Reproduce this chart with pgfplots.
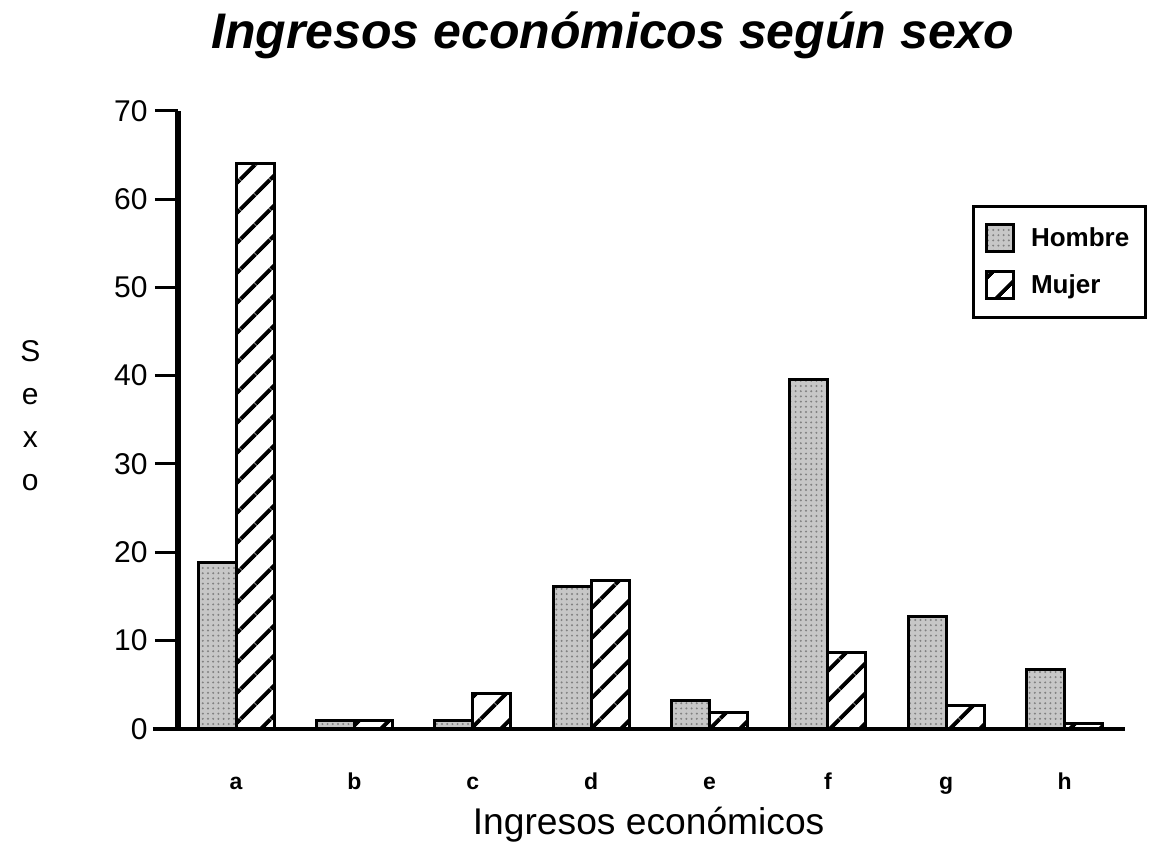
\documentclass[border=0pt]{standalone}
\usepackage{pgfplots}
\pgfplotsset{compat=1.18}
\usepackage{fontspec}
\setmainfont{Liberation Sans}
\usetikzlibrary{patterns.meta}
\begin{document}
\begin{tikzpicture}
\begin{axis}[
  name=ax,
  scale only axis,
  width=473.5pt, height=309pt,
  ybar=0pt, bar width=19pt,
  xmin=-0.49, xmax=7.51,
  ymin=0, ymax=70,
  ytick={0,10,...,70},
  xtick={0,...,7},
  xticklabels={a,b,c,d,e,f,g,h},
  axis x line=bottom, axis y line=left,
  x axis line style={-, line width=2pt, shorten <=-12.5pt},
  y axis line style={-, line width=2.6pt},
  x tick style={draw=none},
  y tick style={line width=1.5pt, black},
  tick align=outside,
  major tick length=11.5pt,
  /pgf/number format/assume math mode=true,
  yticklabel style={font=\fontsize{15}{18}\selectfont, inner sep=3.5pt},
  xticklabel style={font=\fontsize{11.5}{14}\selectfont\bfseries, anchor=base, yshift=-19pt},
  title={\fontsize{25}{30}\selectfont\bfseries\itshape Ingresos económicos según sexo},
  title style={at={(axis description cs:0.459,1.082)}, anchor=base},
  xlabel={Ingresos económicos},
  xlabel style={font=\fontsize{18.6}{22}\selectfont, at={(axis description cs:0.497,-0.155)}, anchor=center},
  ylabel={S\\e\\x\\o},
  ylabel style={rotate=-90, align=center, font=\fontsize{15}{21.5}\selectfont, at={(axis description cs:-0.156,0.506)}, anchor=center},
  legend style={at={(axis description cs:0.838,0.848)}, anchor=north west,
    draw=black, line width=1.5pt, font=\fontsize{13}{15}\selectfont\bfseries,
    row sep=8.5pt, inner xsep=6pt, inner ysep=8.5pt,
    /tikz/every odd column/.append style={column sep=6pt},
    /tikz/every even column/.append style={column sep=8pt}},
  legend cell align=left,
  legend image code/.code={\draw[#1] (0pt,-6.75pt) rectangle (13.5pt,6.75pt);},
  clip=false,
]
\addplot[draw=black, line width=1.5pt, fill=black!22,
  postaction={pattern={Dots[radius=0.55pt,distance=2.6pt]}, pattern color=black!50}]
  coordinates {(0,18.8) (1,0.9) (2,0.9) (3,16.1) (4,3.2) (5,39.6) (6,12.7) (7,6.7)};
\addlegendentry{Hombre}
\addplot[draw=black, line width=1.5pt, fill=white,
  postaction={pattern={Lines[angle=45,distance=10.5pt,line width=2pt]}, pattern color=black}]
  coordinates {(0,64) (1,0.9) (2,3.95) (3,16.8) (4,1.8) (5,8.6) (6,2.6) (7,0.6)};
\addlegendentry{Mujer}
\end{axis}
\path ([shift={(-89pt,-57.6pt)}]ax.south west) rectangle ([shift={(489.5pt,364.4pt)}]ax.south west);
\end{tikzpicture}
\end{document}
